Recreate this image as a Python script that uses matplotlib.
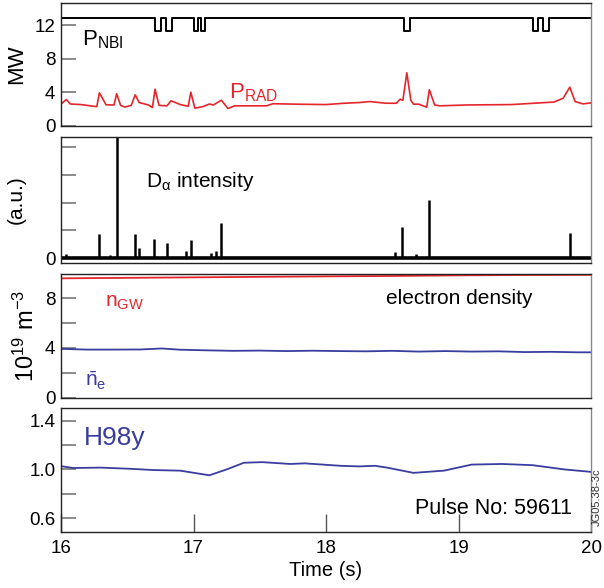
import numpy as np
import matplotlib
matplotlib.use("Agg")
import matplotlib.pyplot as plt

plt.rcParams["font.family"] = ["Liberation Sans", "DejaVu Sans"]
plt.rcParams["mathtext.fontset"] = "custom"
plt.rcParams["mathtext.rm"] = "Liberation Sans"
plt.rcParams["mathtext.it"] = "Liberation Sans:italic"
plt.rcParams["mathtext.bf"] = "Liberation Sans:bold"

RED = "#e4262c"
BLUE = "#3a3d9e"

# ---- P_NBI (MW), step trace ------------------------------------------------
pnbi_t = [16.0, 16.712, 16.712, 16.751, 16.751, 16.792, 16.792, 16.840, 16.840,
          17.004, 17.004, 17.036, 17.036, 17.054, 17.054, 17.087, 17.087,
          18.589, 18.589, 18.634, 18.634, 19.560, 19.560, 19.602, 19.602,
          19.640, 19.640, 19.683, 19.683, 20.0]
pnbi_v = [12.8, 12.8, 11.3, 11.3, 12.8, 12.8, 11.3, 11.3, 12.8,
          12.8, 11.3, 11.3, 12.8, 12.8, 11.3, 11.3, 12.8,
          12.8, 11.3, 11.3, 12.8, 12.8, 11.3, 11.3, 12.8,
          12.8, 11.3, 11.3, 12.8, 12.8]

# ---- P_RAD (MW) -------------------------------------------------------------
prad_t = [16.00, 16.04, 16.07, 16.15, 16.27, 16.29, 16.34, 16.40, 16.42, 16.45,
          16.48, 16.53, 16.56, 16.59, 16.66, 16.69, 16.71, 16.74, 16.80, 16.83,
          16.90, 16.96, 16.98, 17.01, 17.07, 17.12, 17.15, 17.21, 17.26, 17.31,
          17.55, 17.60, 17.80, 18.00, 18.14, 18.25, 18.33, 18.45, 18.53, 18.56,
          18.58, 18.61, 18.64, 18.66, 18.70, 18.76, 18.78, 18.82, 18.86, 19.06,
          19.40, 19.72, 19.79, 19.84, 19.88, 19.94, 20.00]
prad_v = [2.57, 3.10, 2.57, 2.50, 2.25, 3.90, 2.47, 2.45, 3.80, 2.40,
          2.20, 2.40, 3.66, 2.74, 2.45, 2.14, 4.34, 2.40, 2.35, 2.95,
          2.50, 2.30, 3.98, 2.07, 2.25, 2.57, 2.45, 3.02, 2.03, 2.35,
          2.35, 2.60, 2.54, 2.50, 2.66, 2.74, 2.86, 2.66, 2.66, 3.14,
          3.00, 6.30, 3.03, 2.55, 2.55, 2.19, 4.27, 2.45, 2.35, 2.45,
          2.50, 2.80, 3.26, 4.58, 2.86, 2.58, 2.70]

# ---- D-alpha spikes (a.u.) --------------------------------------------------
dalpha_t = [16.04, 16.29, 16.37, 16.42, 16.56, 16.59, 16.70, 16.80, 16.94,
            16.98, 17.13, 17.17, 17.21, 18.52, 18.57, 18.68, 18.78, 19.84]
dalpha_v = [0.15, 0.87, 0.10, 4.6, 0.88, 0.36, 0.69, 0.54, 0.25,
            0.65, 0.18, 0.26, 1.27, 0.20, 1.13, 0.15, 2.09, 0.89]

# ---- densities (1e19 m^-3) --------------------------------------------------
ngw_t = [16.0, 16.5, 17.0, 17.5, 18.0, 18.5, 19.0, 19.5, 20.0]
ngw_v = [9.60, 9.64, 9.68, 9.72, 9.76, 9.79, 9.84, 9.87, 9.88]

ne_t = [16.0, 16.2, 16.4, 16.6, 16.76, 16.9, 17.1, 17.3, 17.5, 17.7, 17.9,
        18.1, 18.3, 18.5, 18.7, 18.9, 19.1, 19.3, 19.5, 19.7, 19.9, 20.0]
ne_v = [3.92, 3.86, 3.86, 3.87, 3.95, 3.85, 3.80, 3.76, 3.78, 3.74, 3.77,
        3.74, 3.72, 3.76, 3.70, 3.74, 3.70, 3.72, 3.66, 3.68, 3.64, 3.64]

# ---- H98y ----------------------------------------------------------------------
h98_t = [16.00, 16.09, 16.30, 16.53, 16.70, 16.90, 17.12, 17.25, 17.38, 17.52,
         17.73, 17.84, 18.11, 18.25, 18.37, 18.46, 18.66, 18.89, 19.10, 19.33,
         19.56, 19.80, 20.00]
h98_v = [1.027, 1.012, 1.015, 1.005, 0.995, 0.99, 0.952, 1.00, 1.055, 1.06,
         1.045, 1.05, 1.03, 1.025, 1.03, 1.015, 0.972, 0.99, 1.04, 1.045,
         1.035, 1.00, 0.98]

W, H = 604, 588
fig = plt.figure(figsize=(W / 100, H / 100), dpi=100)

def add_panel(top_px, bot_px):
    return fig.add_axes([61 / W, 1 - bot_px / H, 530 / W, (bot_px - top_px) / H])

ax1 = add_panel(3, 125.5)
ax2 = add_panel(137, 263)
ax3 = add_panel(274, 397.5)
ax4 = add_panel(408, 531.5)
axes = [ax1, ax2, ax3, ax4]

for ax in axes:
    ax.set_xlim(16, 20)
    ax.tick_params(axis="y", direction="in", length=11, width=1.2,
                   color="#777777", labelsize=13.5, pad=4)
    ax.tick_params(axis="x", direction="in", length=13, width=1.0,
                   color="#555555", labelsize=13.5, pad=6)
    for s in ax.spines.values():
        s.set_linewidth(1.0)
        s.set_color("#222222")
    ax.spines["right"].set_color("#888888")
for ax in axes[:3]:
    ax.set_xticks([])

# panel 1: powers
ax1.plot(pnbi_t, pnbi_v, color="black", lw=1.4)
ax1.plot(prad_t, prad_v, color=RED, lw=1.2)
ax1.set_ylim(0, 14.63)
ax1.set_yticks([0, 4, 8, 12])
ax1.set_ylabel("MW", fontsize=16, labelpad=5)
ax1.text(16.16, 9.6, r"P$_{\mathrm{NBI}}$", fontsize=16)
ax1.text(17.27, 3.2, r"P$_{\mathrm{RAD}}$", fontsize=16, color=RED)

# panel 2: D-alpha
ax2.axhline(0, color="black", lw=2.6)
ax2.vlines(dalpha_t, 0, dalpha_v, color="black", lw=1.8)
ax2.set_ylim(-0.18, 4.37)
ax2.set_yticks([0, 1, 2, 3, 4])
ax2.set_yticklabels(["0", "", "", "", ""])
ax2.set_ylabel("(a.u.)", fontsize=15, labelpad=14)
ax2.text(16.64, 2.55, r"D$_{\mathrm{\alpha}}$ intensity", fontsize=15)

# panel 3: densities
ax3.plot(ngw_t, ngw_v, color=RED, lw=1.3)
ax3.plot(ne_t, ne_v, color=BLUE, lw=1.3)
ax3.set_ylim(0, 9.95)
ax3.set_yticks([0, 2, 4, 6, 8])
ax3.set_yticklabels(["0", "", "4", "", "8"])
ax3.set_ylabel(r"10$^{19}$ m$^{-3}$", fontsize=17, labelpad=4)
ax3.text(16.33, 7.35, r"n$_{\mathrm{GW}}$", fontsize=15, color=RED)
ax3.text(18.45, 7.5, "electron density", fontsize=15)
ax3.text(16.18, 0.85, r"$\bar{\mathrm{n}}_{\mathrm{e}}$", fontsize=15, color=BLUE)

# panel 4: H98y
ax4.plot(h98_t, h98_v, color=BLUE, lw=1.3)
ax4.set_ylim(0.49, 1.505)
ax4.set_yticks([0.6, 0.8, 1.0, 1.2, 1.4])
ax4.set_yticklabels(["0.6", "", "1.0", "", "1.4"])
ax4.set_xticks([16, 17, 18, 19, 20])
ax4.set_xlabel("Time (s)", fontsize=14.5, labelpad=3)
ax4.text(16.17, 1.2, "H98y", fontsize=19, color=BLUE)
ax4.text(19.86, 0.68, "Pulse No: 59611", fontsize=15.5, ha="right", va="center")
fig.text(596.5 / W, 1 - 497 / H, "JG05.38-3c", rotation=90, fontsize=8,
         ha="center", va="center", color="#333333")

fig.savefig("out.png", dpi=100)
